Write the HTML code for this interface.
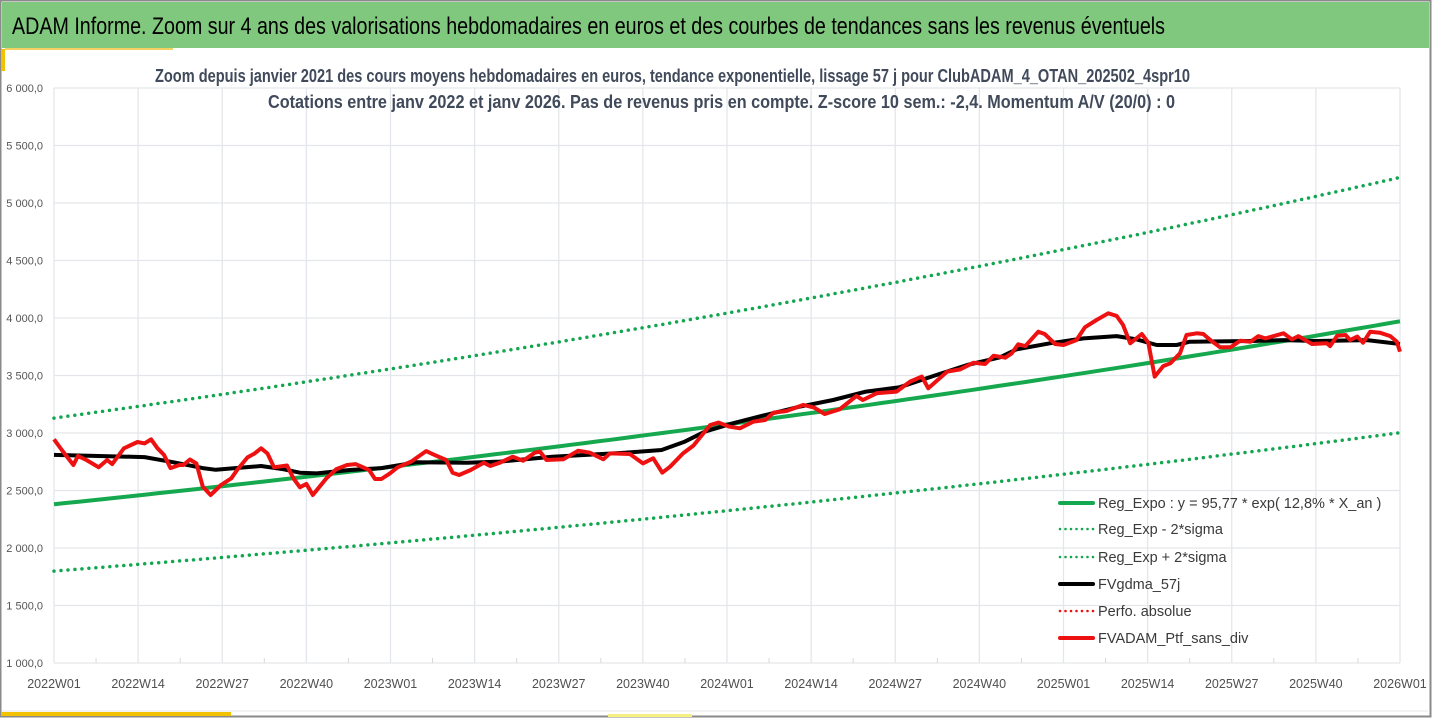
<!DOCTYPE html>
<html><head><meta charset="utf-8">
<style>
html,body{margin:0;padding:0;background:#fff;}
body{width:1432px;height:719px;overflow:hidden;position:relative;font-family:"Liberation Sans",sans-serif;}
</style></head>
<body>
<svg id="chart" width="1432" height="719" xmlns="http://www.w3.org/2000/svg" style="position:absolute;left:0;top:0">
  <rect x="0.5" y="0.5" width="1430" height="716" fill="#fff" stroke="#8a8a8a" stroke-width="2"/>
  <rect x="2" y="2" width="1427" height="46" fill="#7fc87d"/>
  <text x="12" y="34" font-size="24" fill="#000" textLength="1153" lengthAdjust="spacingAndGlyphs">ADAM Informe. Zoom sur 4 ans des valorisations hebdomadaires en euros et des courbes de tendances sans les revenus éventuels</text>
  <rect x="1" y="49" width="4" height="22" fill="#f2c200"/>
  <rect x="5" y="48" width="168" height="2" fill="#f6d060"/>
  <rect x="1" y="712" width="230" height="4" fill="#f2c200"/>
  <line x1="2" y1="711" x2="1428" y2="711" stroke="#e4e4e4"/>
  <rect x="608" y="714" width="84" height="3" fill="#f6f080"/>
  <text x="155" y="82" font-size="18.5" font-weight="bold" fill="#404a5a" textLength="1035" lengthAdjust="spacingAndGlyphs">Zoom depuis janvier 2021 des cours moyens hebdomadaires  en euros, tendance exponentielle, lissage 57 j pour ClubADAM_4_OTAN_202502_4spr10</text>
  <g id="plot"></g>
  <text x="268" y="108" font-size="18.5" font-weight="bold" fill="#404a5a" textLength="907" lengthAdjust="spacingAndGlyphs">Cotations entre janv 2022 et janv 2026. Pas de revenus pris en compte. Z-score 10 sem.: -2,4. Momentum A/V (20/0) : 0</text>
  <g id="legend"></g>
</svg>
<script>
// ---- data ----
const xTickLabels = ["2022W01","2022W14","2022W27","2022W40","2023W01","2023W14","2023W27","2023W40","2024W01","2024W14","2024W27","2024W40","2025W01","2025W14","2025W27","2025W40","2026W01"];
const yTickValues = [1000,1500,2000,2500,3000,3500,4000,4500,5000,5500,6000];
const regCoef = [2380];          // trend value at 2022W01
const regRate = [0.128];         // 12,8% per year
const sigmaUpper = [1.315];
const sigmaLower = [0.756];
const redWeeks = [0,1.2,3,3.7,5,6.9,8.2,9,10.8,12.9,14,15,16,17,18,19.4,20,21,22,23,24.2,25.8,27.4,28.3,29.9,31,32,33,34,36,37,38,39,40,42.1,43.6,45.3,46.6,48.7,49.6,50.6,51.9,53.1,55.2,57.5,58.8,60.6,61.6,62.6,64.4,66.4,67.4,68.9,70.9,72.5,74.3,75.1,76.1,78.7,81,82.8,84.9,85.9,89,91,92.6,94,95.2,97.2,98.8,101.4,102.7,104.4,106,108.1,109.9,111.2,113.2,115.8,117.4,119.1,121.4,124,125,127.1,130.2,132.3,134.1,135.1,138,140,142.1,143.9,145.2,147,148,149,150.1,152.1,153.1,154.7,156,158,159.3,161.1,162.9,164.2,165.2,166.3,168.1,169.1,170.1,171.4,172.5,174,175,176.6,177.6,178.7,180.2,181.8,183.3,184.9,186.1,187.2,190,191.3,192.3,194.4,196.7,197.2,198.3,199.6,200.3,201.4,202.3,203.4,204.9,206.5,207.5,208];
const redValues = [2945,2852,2722,2800,2765,2702,2765,2730,2867,2922,2910,2945,2867,2810,2695,2722,2722,2770,2735,2533,2461,2548,2606,2678,2788,2822,2867,2822,2702,2717,2606,2528,2557,2461,2606,2684,2722,2730,2678,2600,2600,2649,2702,2751,2843,2810,2765,2655,2635,2678,2742,2713,2742,2794,2759,2829,2838,2765,2771,2846,2829,2771,2823,2817,2736,2780,2655,2707,2823,2890,3070,3090,3055,3041,3099,3113,3177,3191,3244,3223,3165,3206,3322,3287,3345,3360,3447,3490,3389,3533,3553,3611,3600,3672,3655,3693,3771,3756,3881,3861,3774,3765,3808,3919,3983,4041,4018,3940,3780,3861,3785,3490,3582,3606,3693,3852,3867,3861,3808,3745,3745,3803,3794,3843,3823,3867,3814,3843,3774,3780,3756,3846,3852,3808,3838,3785,3881,3872,3843,3794,3707];
const blackWeeks = [0,14,18.5,23,25,28,32,35.5,38,40.6,45.7,50.6,56,63.8,68.9,77,88.2,93.9,97.5,100.6,104.9,110,115.2,120.4,125.5,130.7,135.9,141.1,146.2,148.7,153.9,159.1,164.2,167.3,170.4,173.5,175.5,184.9,190,195.2,202.9,208];
const blackValues = [2810,2790,2745,2695,2680,2695,2713,2684,2655,2649,2678,2695,2745,2742,2751,2794,2829,2852,2925,3012,3084,3157,3229,3287,3360,3398,3496,3591,3658,3727,3780,3823,3843,3814,3765,3765,3794,3800,3808,3800,3808,3774];

// ---- axes ----
const X0=54, X1=1400, Y0=663, Y1=88, WEEKS=208;
const xs = w => X0 + (w/WEEKS)*(X1-X0);
const ys = v => Y0 - (v-1000)/5000*(Y0-Y1);
const NS="http://www.w3.org/2000/svg";
const plot=document.getElementById('plot');
function mk(tag,attrs,parent){const e=document.createElementNS(NS,tag);for(const k in attrs)e.setAttribute(k,attrs[k]);(parent||plot).appendChild(e);return e;}

// grid
yTickValues.forEach(v=>{
  const l=mk('line',{x1:X0,x2:X1,y1:ys(v),y2:ys(v),stroke:'#e3e6ea','stroke-width':1.3});
  
  
  const t=mk('text',{x:43,y:ys(v)+4,'font-size':11,fill:'#555','text-anchor':'end'});
  t.textContent=v.toLocaleString('fr-FR').replace(/\s|\u202f|\u00a0/g,' ')+',0';
  
  
});
xTickLabels.forEach((lab,i)=>{
  const x=xs(i*13);
  const l=mk('line',{x1:x,x2:x,y1:Y1,y2:Y0,stroke:'#e3e6ea','stroke-width':1.3});
  
  
  if(i<xTickLabels.length-1){
    const m=mk('line',{x1:xs(i*13+6.5),x2:xs(i*13+6.5),y1:Y0,y2:Y0-5,stroke:'#d8d8d8'});
    
    
  }
  const t=mk('text',{x:x,y:688,'font-size':12.5,fill:'#505050','text-anchor':'middle'});
  t.textContent=lab;
  
  
});

// trend lines
function trend(f){let pts=[];for(let w=0;w<=WEEKS;w+=2){pts.push(xs(w).toFixed(1)+','+ys(regCoef[0]*f*Math.exp(regRate[0]*w/52)).toFixed(1));}return pts.join(' ');}
const up=mk('polyline',{points:trend(sigmaUpper[0]),fill:'none',stroke:'#12a650','stroke-width':3.5,'stroke-dasharray':'0 7','stroke-linecap':'round'});


const lo=mk('polyline',{points:trend(sigmaLower[0]),fill:'none',stroke:'#12a650','stroke-width':3.5,'stroke-dasharray':'0 7','stroke-linecap':'round'});


const rg=mk('polyline',{points:trend(1),fill:'none',stroke:'#16a84e','stroke-width':4});



function series(ws,vs){return ws.map((w,i)=>xs(w).toFixed(1)+','+ys(vs[i]).toFixed(1)).join(' ');}
const bl=mk('polyline',{points:series(blackWeeks,blackValues),fill:'none',stroke:'#000','stroke-width':4,'stroke-linejoin':'round'});


const rd=mk('polyline',{points:series(redWeeks,redValues),fill:'none',stroke:'#ee1111','stroke-width':4,'stroke-linejoin':'round'});



// legend
const leg=document.getElementById('legend');
const entries=[
 ['Reg_Expo : y = 95,77 * exp( 12,8% *  X_an )','#16a84e',false,'legend-reg-expo'],
 ['Reg_Exp - 2*sigma','#12a650',true,'legend-reg-minus-2sigma'],
 ['Reg_Exp + 2*sigma','#12a650',true,'legend-reg-plus-2sigma'],
 ['FVgdma_57j','#000',false,'legend-fvgdma'],
 ['Perfo. absolue','#ee1111',true,'legend-perfo-absolue'],
 ['FVADAM_Ptf_sans_div','#ee1111',false,'legend-fvadam']];
const legY=[503,529,557,584,611,638];
entries.forEach((e,i)=>{
  const g=mk('g',{},leg);
  
  
  const y=legY[i];
  if(e[2]) mk('line',{x1:1060,x2:1094,y1:y,y2:y,stroke:e[1],'stroke-width':2.6,'stroke-dasharray':'0 5.5','stroke-linecap':'round'},g);
  else mk('line',{x1:1060,x2:1093,y1:y,y2:y,stroke:e[1],'stroke-width':4,'stroke-linecap':'round'},g);
  const t=mk('text',{x:1098,y:y+5,'font-size':14.5,fill:'#3a3a3a'},g);
  t.textContent=e[0];
});
</script>
</body></html>
